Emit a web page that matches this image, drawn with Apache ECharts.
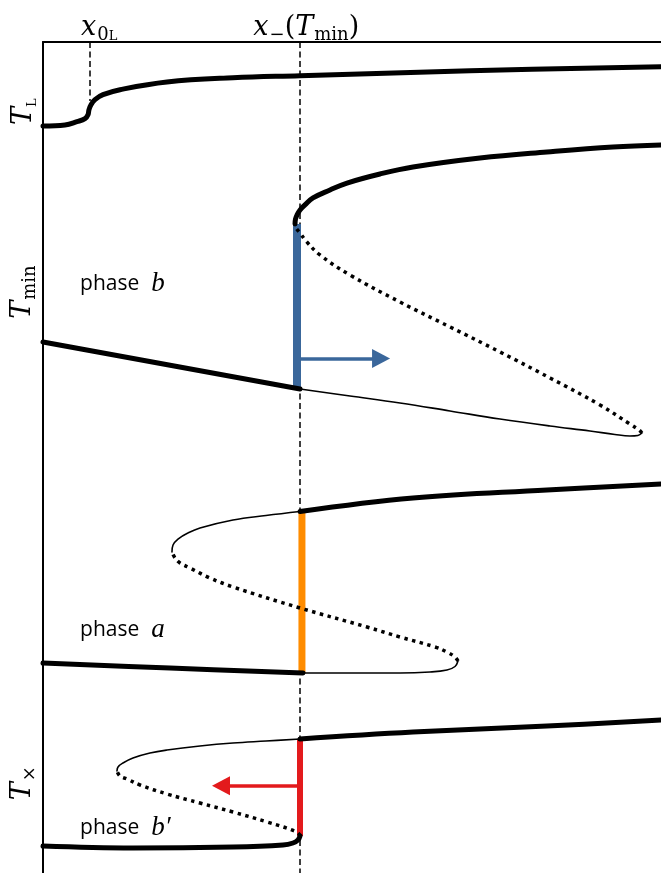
<!DOCTYPE html>
<html>
<head>
<meta charset="utf-8">
<script src="https://cdn.jsdelivr.net/npm/echarts@6/dist/echarts.min.js"></script>
<style>
  html, body { margin: 0; padding: 0; background: #fff; }
  #chart { width: 661px; height: 873px; }
</style>
</head>
<body>
<div id="chart"></div>
<script>
// Branches of the equilibrium curves, as [x, T] pairs in axis units (x: 0–100, T: 0–100).

// Top curve (single stable branch through x0L)
const topBranch = [[0, 89.89], [3.56, 90.01], [5.50, 90.41], [6.80, 90.77], [7.28, 91.25], [7.44, 91.85],
  [7.77, 92.46], [8.41, 93.06], [9.71, 93.66], [12.46, 94.26], [20.06, 95.19], [30.74, 95.70],
  [41.59, 95.94], [69.09, 96.54], [100, 97.02]];

// Phase b curve
const bLowerStable = [[0, 63.9], [41.59, 58.24]];
const bLowerThin = [[41.59, 58.24], [49.68, 57.40], [57.77, 56.56], [65.86, 55.60], [73.95, 54.63],
  [82.04, 53.79], [88.51, 53.19], [92.54, 52.77], [94.97, 52.59], [96.26, 52.65], [96.92, 52.95]];
const bMiddle = [[96.92, 52.95], [96.44, 53.31], [94.97, 54.03], [90.13, 56.32], [82.04, 59.57],
  [73.95, 62.70], [65.86, 65.71], [57.77, 68.71], [49.68, 71.96], [44.82, 74.37], [42.56, 76.05],
  [41.59, 77.02], [40.94, 77.62], [40.78, 78.10]];
const bUpper = [[40.78, 78.10], [40.86, 78.70], [41.10, 79.18], [41.59, 79.79], [42.39, 80.39],
  [43.69, 81.23], [46.44, 82.19], [49.19, 83.03], [54.53, 84.12], [59.87, 84.96], [70.71, 86.04],
  [81.55, 86.77], [92.23, 87.37], [100, 87.61]];

// Phase a curve
const aLowerStable = [[0, 25.27], [20.55, 24.67], [42.07, 24.07]];
const aLowerThin = [[42.07, 24.07], [49.68, 24.07], [57.77, 24.07], [62.62, 24.19], [65.37, 24.43],
  [66.67, 24.85], [67.15, 25.51]];
const aMiddle = [[67.15, 25.51], [66.67, 25.99], [65.37, 26.59], [63.43, 27.20], [57.77, 28.40],
  [52.43, 29.60], [41.59, 31.89], [30.74, 34.42], [27.02, 35.50], [23.79, 36.70], [22.17, 37.31],
  [21.36, 37.91], [20.87, 38.63]];
const aUpperThin = [[20.87, 38.63], [21.04, 39.47], [21.84, 40.19], [23.46, 40.92], [25.40, 41.52],
  [30.74, 42.48], [36.08, 43.02], [41.59, 43.50]];
const aUpperStable = [[41.59, 43.50], [59.87, 45.13], [81.55, 46.09], [100, 46.81]];

// Phase b' curve
const b2LowerStable = [[0, 3.25], [14.56, 3.01], [30.74, 3.13], [38.83, 3.37], [40.45, 3.61],
  [41.26, 3.97], [41.59, 4.45]];
const b2Middle = [[41.59, 4.45], [41.10, 4.93], [36.25, 6.14], [30.74, 7.34], [25.40, 8.42],
  [20.06, 9.51], [15.70, 10.59], [13.59, 11.31], [12.46, 11.67], [11.97, 12.27]];
const b2UpperThin = [[11.97, 12.27], [12.14, 12.76], [12.94, 13.24], [14.56, 13.84], [17.31, 14.44],
  [20.06, 14.80], [25.40, 15.28], [30.74, 15.64], [36.08, 15.88], [41.59, 16.13]];
const b2UpperStable = [[41.59, 16.13], [59.87, 16.97], [81.55, 17.69], [100, 18.41]];

// Jumps at x = x−(Tmin)
const blueJump = [[41.10, 78.10], [41.10, 58.24]];
const orangeJump = [[41.9, 43.5], [41.9, 24.07]];
const redJump = [[41.59, 16.13], [41.59, 4.45]];

// Direction arrows: [from, to]
const blueArrow = [[41.6, 61.9], [54.7, 61.9]];
const redArrow = [[41.6, 10.5], [28.8, 10.5]];

// Reference verticals
const x0L = 7.6, x0LTop = 92.9;
const xMinus = 41.6;

// Tick labels
const xTickValues = [9.1, 42.6];
const xTickLabels = ['{i|x}{s|0}{ss|L}', '{i|x}{s|−}{r|(}{i|T}{s|min}{r|)}'];
const yTickValues = [91.6, 69.9, 10.8];
const yTickLabels = ['{i|T}{ss|L}', '{i|T}{s|min}', '{i|T}{s|×}'];

// Phase annotations: [x, T, text]
const phaseNotes = [[6.0, 70.9, '{p|phase}{m|b}'], [6.0, 29.2, '{p|phase}{m|a}'], [6.0, 5.4, '{p|phase}{m|b′}']];

const BLACK = '#000';
const THICK = 5, THIN = 1.6, DOT_W = 3.5;
const DOTS = [3.5, 4.5];
const MATH = 'DejaVu Serif';
const mathRich = {
  i: { fontFamily: MATH, fontStyle: 'italic', fontSize: 27, color: BLACK },
  r: { fontFamily: MATH, fontSize: 27, color: BLACK },
  s: { fontFamily: MATH, fontSize: 18, color: BLACK, padding: [15, 0, 0, 1] },
  ss: { fontFamily: MATH, fontSize: 13, color: BLACK, padding: [18, 0, 0, 0] }
};

function curve(data, width, type) {
  return {
    type: 'line', data: data, smooth: 0.4, showSymbol: false, symbol: 'none',
    silent: true, z: 4,
    lineStyle: { color: BLACK, width: width, type: type || 'solid', cap: type ? 'butt' : 'round', join: 'round' }
  };
}
function jump(data, color, width) {
  return {
    type: 'line', data: data, showSymbol: false, symbol: 'none', silent: true, z: 3,
    lineStyle: { color: color, width: width, cap: 'butt' }
  };
}
function arrow(pts, color) {
  return {
    type: 'line', data: [], silent: true, z: 3,
    markLine: {
      silent: true, z: 3, symbol: ['none', 'triangle'], symbolSize: [19, 18],
      label: { show: false },
      lineStyle: { color: color, width: 3.5, type: 'solid' },
      emphasis: { disabled: true },
      data: [[{ coord: pts[0] }, { coord: pts[1] }]]
    }
  };
}

const chart = echarts.init(document.getElementById('chart'), null, { renderer: 'canvas' });
chart.setOption({
  animation: false,
  backgroundColor: '#fff',
  textStyle: { color: BLACK },
  grid: { left: 43, top: 42, right: 0, bottom: 0 },
  xAxis: {
    type: 'value', min: 0, max: 100, position: 'top',
    axisLine: { show: true, onZero: false, lineStyle: { color: BLACK, width: 2 } },
    axisTick: { show: false }, splitLine: { show: false },
    axisLabel: {
      customValues: xTickValues, margin: -2, color: BLACK,
      formatter: v => xTickLabels[xTickValues.indexOf(v)] || '',
      rich: mathRich
    }
  },
  yAxis: {
    type: 'value', min: 0, max: 100,
    axisLine: { show: true, onZero: false, lineStyle: { color: BLACK, width: 2 } },
    axisTick: { show: false }, splitLine: { show: false },
    axisLabel: {
      customValues: yTickValues, margin: 4, rotate: 90, color: BLACK,
      formatter: v => yTickLabels[yTickValues.indexOf(v)] || '',
      rich: mathRich
    }
  },
  series: [
    // dashed reference verticals
    {
      type: 'line', data: [], silent: true, z: 1,
      markLine: {
        silent: true, z: 1, symbol: ['none', 'none'], label: { show: false },
        lineStyle: { color: BLACK, width: 1.5, type: [6, 3.5] },
        emphasis: { disabled: true },
        data: [
          [{ coord: [x0L, 100] }, { coord: [x0L, x0LTop] }],
          [{ coord: [xMinus, 100] }, { coord: [xMinus, 0] }]
        ]
      }
    },
    jump(blueJump, '#3a679b', 8),
    jump(orangeJump, '#ff8c00', 7),
    jump(redJump, '#e31a1c', 6),
    arrow(blueArrow, '#3a679b'),
    arrow(redArrow, '#e31a1c'),
    curve(topBranch, THICK),
    curve(bLowerStable, THICK), curve(bLowerThin, THIN), curve(bMiddle, DOT_W, DOTS), curve(bUpper, THICK),
    curve(aLowerStable, THICK), curve(aLowerThin, THIN), curve(aMiddle, DOT_W, DOTS),
    curve(aUpperThin, THIN), curve(aUpperStable, THICK),
    curve(b2LowerStable, THICK), curve(b2Middle, DOT_W, DOTS), curve(b2UpperThin, THIN), curve(b2UpperStable, THICK),
    // phase annotations
    {
      type: 'scatter', symbolSize: 0, silent: true, z: 5,
      data: phaseNotes.map(n => ({ value: [n[0], n[1]], label: { formatter: n[2] } })),
      label: {
        show: true, position: 'right', distance: 0, color: BLACK, opacity: 1,
        rich: {
          p: { fontFamily: 'Open Sans', fontSize: 21, color: BLACK },
          m: { fontFamily: 'Liberation Serif', fontStyle: 'italic', fontSize: 27, color: BLACK, padding: [0, 0, 0, 12] }
        }
      }
    }
  ]
});
</script>
</body>
</html>
